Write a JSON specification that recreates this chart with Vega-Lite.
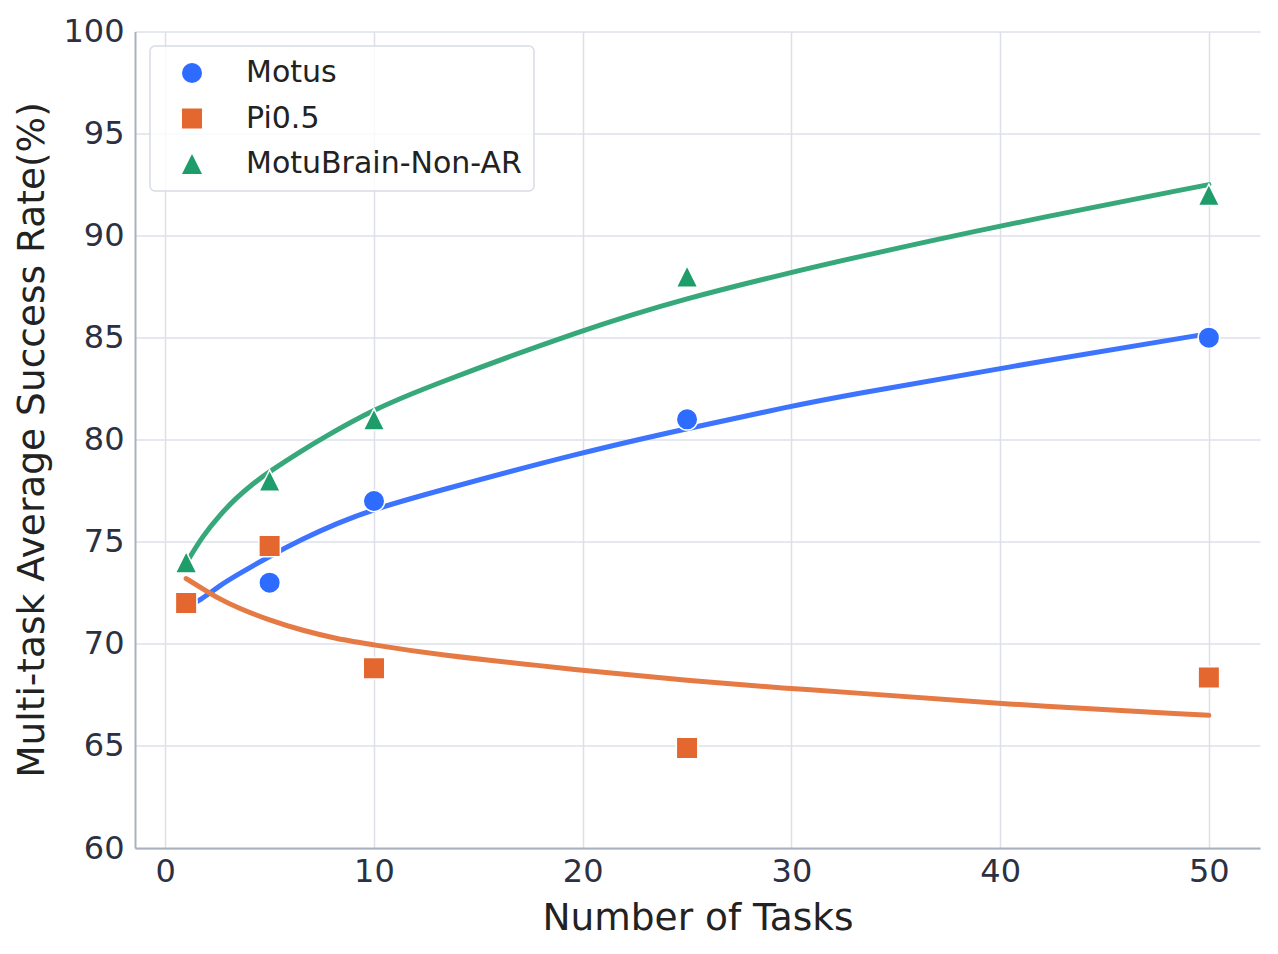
{
  "$schema": "https://vega.github.io/schema/vega-lite/v6.json",
  "width": 1125,
  "height": 816.5,
  "autosize": {"type": "none"},
  "padding": {"left": 135, "top": 31.5, "right": 18, "bottom": 106.5},
  "background": "white",
  "config": {
    "font": "DejaVu Sans",
    "view": {"stroke": null},
    "axis": {
      "grid": true,
      "gridColor": "#DDE0EA",
      "gridWidth": 1.5,
      "ticks": false,
      "domain": true,
      "domainColor": "#AAB1BF",
      "domainWidth": 2,
      "labelFont": "DejaVu Sans",
      "labelFontSize": 32,
      "labelColor": "#2B3042",
      "titleFont": "DejaVu Sans",
      "titleFontSize": 37.5,
      "titleFontWeight": "normal",
      "titleColor": "#222222"
    },
    "legend": {
      "orient": "none",
      "legendX": 15,
      "legendY": 14.5,
      "padding": 12,
      "symbolOffset": 15,
      "labelOffset": 39,
      "rowPadding": 15.5,
      "labelLimit": 400,
      "labelFont": "DejaVu Sans",
      "labelFontSize": 30,
      "labelColor": "#222222",
      "strokeColor": "#D8DCE6",
      "strokeWidth": 1.5,
      "cornerRadius": 5,
      "fillColor": "rgba(255,255,255,0.8)",
      "symbolSize": 400,
      "symbolStrokeWidth": 0
    }
  },
  "datasets": {
    "motusFit": [
      {"tasks": 1, "rate": 71.8},
      {"tasks": 1.7, "rate": 72.15},
      {"tasks": 2.6, "rate": 72.85},
      {"tasks": 3.4, "rate": 73.35},
      {"tasks": 5, "rate": 74.3},
      {"tasks": 6.6, "rate": 75.15},
      {"tasks": 8.2, "rate": 75.9},
      {"tasks": 10, "rate": 76.6},
      {"tasks": 12.7, "rate": 77.4},
      {"tasks": 20, "rate": 79.4},
      {"tasks": 25, "rate": 80.55},
      {"tasks": 30, "rate": 81.65},
      {"tasks": 32.5, "rate": 82.15},
      {"tasks": 40, "rate": 83.5},
      {"tasks": 50, "rate": 85.2}
    ],
    "piFit": [
      {"tasks": 1, "rate": 73.2},
      {"tasks": 1.8, "rate": 72.7},
      {"tasks": 2.6, "rate": 72.2},
      {"tasks": 3.4, "rate": 71.8},
      {"tasks": 5, "rate": 71.15},
      {"tasks": 6.6, "rate": 70.65},
      {"tasks": 8.2, "rate": 70.25},
      {"tasks": 10, "rate": 69.95},
      {"tasks": 12.7, "rate": 69.5},
      {"tasks": 20, "rate": 68.7},
      {"tasks": 25, "rate": 68.2},
      {"tasks": 30, "rate": 67.8},
      {"tasks": 32.5, "rate": 67.65},
      {"tasks": 40, "rate": 67.05},
      {"tasks": 50, "rate": 66.5}
    ],
    "nonArFit": [
      {"tasks": 1, "rate": 73.95},
      {"tasks": 1.8, "rate": 75.3},
      {"tasks": 2.6, "rate": 76.3},
      {"tasks": 3.4, "rate": 77.15},
      {"tasks": 4.2, "rate": 77.85},
      {"tasks": 5, "rate": 78.45},
      {"tasks": 6.6, "rate": 79.5},
      {"tasks": 7.4, "rate": 80.0},
      {"tasks": 10, "rate": 81.5},
      {"tasks": 12.7, "rate": 82.65},
      {"tasks": 20, "rate": 85.4},
      {"tasks": 25, "rate": 86.95},
      {"tasks": 30, "rate": 88.2},
      {"tasks": 32.5, "rate": 88.8},
      {"tasks": 40, "rate": 90.5},
      {"tasks": 50, "rate": 92.5}
    ],
    "points": [
      {"model": "Motus", "tasks": 1, "rate": 72},
      {"model": "Motus", "tasks": 5, "rate": 73},
      {"model": "Motus", "tasks": 10, "rate": 77},
      {"model": "Motus", "tasks": 25, "rate": 81},
      {"model": "Motus", "tasks": 50, "rate": 85},
      {"model": "Pi0.5", "tasks": 1, "rate": 72},
      {"model": "Pi0.5", "tasks": 5, "rate": 74.8},
      {"model": "Pi0.5", "tasks": 10, "rate": 68.8},
      {"model": "Pi0.5", "tasks": 25, "rate": 64.9},
      {"model": "Pi0.5", "tasks": 50, "rate": 68.35},
      {"model": "MotuBrain-Non-AR", "tasks": 1, "rate": 74},
      {"model": "MotuBrain-Non-AR", "tasks": 5, "rate": 78},
      {"model": "MotuBrain-Non-AR", "tasks": 10, "rate": 81},
      {"model": "MotuBrain-Non-AR", "tasks": 25, "rate": 88},
      {"model": "MotuBrain-Non-AR", "tasks": 50, "rate": 92}
    ]
  },
  "encoding": {
    "x": {
      "field": "tasks",
      "type": "quantitative",
      "title": "Number of Tasks",
      "scale": {"domain": [-1.45, 52.45], "nice": false, "zero": false},
      "axis": {"values": [0, 10, 20, 30, 40, 50], "labelPadding": 8, "titleY": 81, "titleBaseline": "alphabetic"}
    },
    "y": {
      "field": "rate",
      "type": "quantitative",
      "title": "Multi-task Average Success Rate(%)",
      "scale": {"domain": [60, 100], "nice": false, "zero": false},
      "axis": {"values": [60, 65, 70, 75, 80, 85, 90, 95, 100], "labelPadding": 11, "titleX": -92, "titleY": 408, "titleAngle": -90, "titleAlign": "center", "titleBaseline": "alphabetic"}
    }
  },
  "layer": [
    {
      "data": {"name": "motusFit"},
      "mark": {"type": "line", "strokeWidth": 5, "strokeCap": "round", "interpolate": "basis", "color": "#3D74FF"}
    },
    {
      "data": {"name": "piFit"},
      "mark": {"type": "line", "strokeWidth": 5, "strokeCap": "round", "interpolate": "basis", "color": "#E67A44"}
    },
    {
      "data": {"name": "nonArFit"},
      "mark": {"type": "line", "strokeWidth": 5, "strokeCap": "round", "interpolate": "basis", "color": "#36A87A"}
    },
    {
      "data": {"name": "points"},
      "mark": {"type": "point", "filled": true, "opacity": 1, "size": 462, "stroke": "white", "strokeWidth": 1.5},
      "encoding": {
        "fill": {
          "field": "model",
          "type": "nominal",
          "title": null,
          "scale": {"domain": ["Motus", "Pi0.5", "MotuBrain-Non-AR"], "range": ["#2E6BFF", "#E3672F", "#1E9D6B"]}
        },
        "shape": {
          "field": "model",
          "type": "nominal",
          "title": null,
          "scale": {"domain": ["Motus", "Pi0.5", "MotuBrain-Non-AR"], "range": ["circle", "square", "M0,-1L1,1L-1,1Z"]}
        }
      }
    }
  ]
}
